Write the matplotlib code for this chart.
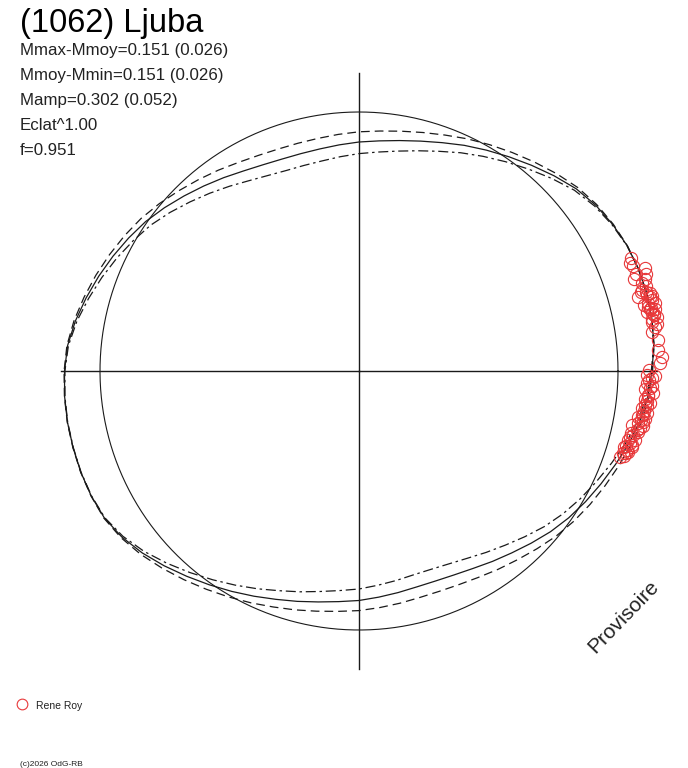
import numpy as np
import matplotlib
matplotlib.use("Agg")
import matplotlib.pyplot as plt

plt.rcParams['font.family'] = ['Liberation Sans', 'DejaVu Sans']

# polar lightcurve, radius in plot units (reference circle = 259)
ref_radius = 259
axis_len = 298

# fitted curve and the two error curves, read every 5 degrees
theta_deg = list(range(0, 360, 5))
r_fit = [293, 296, 297.5, 298, 297.5, 296, 293, 289, 283.5, 276, 268.5, 261.5,
         255, 249, 243, 238, 234, 231, 229, 227, 225.5, 225, 225.5, 227.5,
         231, 236, 241.5, 247.5, 254, 260.5, 266, 271.5, 277, 282.5, 288, 292.5,
         294.5, 295.5, 296, 296, 296, 295.5, 294, 289.5, 283, 275.5, 268, 261,
         254.5, 248.5, 243, 238.5, 234.5, 231.5, 229.5, 227, 225, 223.5, 223.5, 225,
         228, 232.5, 237.5, 243.5, 250, 256, 261.5, 267, 273, 279.5, 285.5, 290]
r_low_amp = [293.6, 296.2, 297.4, 297.9, 297.4, 296.2, 293.6, 290.2, 285.5, 279.2, 272.8, 266.8,
             261.3, 256.2, 251.1, 246.9, 243.5, 240.9, 239.2, 237.5, 236.2, 235.8, 236.2, 237.9,
             240.9, 245.2, 249.8, 254.9, 260.5, 266.0, 270.7, 275.3, 280.0, 284.7, 289.4, 293.2,
             294.9, 295.7, 296.2, 296.2, 296.2, 295.7, 294.5, 290.6, 285.1, 278.7, 272.4, 266.4,
             260.9, 255.8, 251.1, 247.3, 243.9, 241.3, 239.6, 237.5, 235.8, 234.5, 234.5, 235.8,
             238.4, 242.2, 246.4, 251.5, 257.1, 262.1, 266.8, 271.5, 276.6, 282.1, 287.2, 291.1]
r_high_amp = [292.3, 295.8, 297.6, 298.2, 297.6, 295.8, 292.3, 287.6, 281.2, 272.4, 263.6, 255.5,
              247.9, 240.8, 233.8, 228.0, 223.3, 219.8, 217.4, 215.1, 213.3, 212.8, 213.3, 215.7,
              219.8, 225.6, 232.1, 239.1, 246.7, 254.3, 260.7, 267.2, 273.6, 280.0, 286.5, 291.7,
              294.1, 295.2, 295.8, 295.8, 295.8, 295.2, 293.5, 288.2, 280.6, 271.8, 263.1, 254.9,
              247.3, 240.3, 233.8, 228.6, 223.9, 220.4, 218.0, 215.1, 212.8, 211.0, 211.0, 212.8,
              216.3, 221.5, 227.4, 234.4, 242.0, 249.0, 255.5, 261.9, 268.9, 276.5, 283.5, 288.8]

# observations (Rene Roy): angle in degrees, radius
obs_theta = [21.8, 19.8, 19.4, 18.7, 18.4, 14.9, 14.8, 15.0, 13.6, 12.9,
             12.5, 11.8, 11.2, 10.3, 9.6, 5.9, 4.0, 2.7, 1.6, -0.8,
             -1.4, -2.4, -4.3, -5.5, -6.3, -7.5, -8.4, -9.3, -10.1, -11.2,
             -12.0, -13.1, -14.4, -15.2, -16.4, -17.3, 15.6, 16.5, 13.0, 11.5,
             10.8, 8.5, 7.5, -3.3, -7.0, -9.9, -11.5, -12.8, -14.0, -15.8,
             -16.8, -3.6, 0.2, -1.0, 17.2, 22.6, 14.2, 12.0, -5.0, -8.8,
             -1.8, -2.9, -4.8, -5.9, -6.8, -7.9, -8.9, -9.6, -10.6, -11.0,
             -12.4, -13.6, -14.8, -15.6, -16.0, -17.0, -17.8, -18.3,
             10.0, 11.0, 12.2, 13.3, 14.3, 15.3, 16.0, 17.8, 9.0, 21.0]
obs_r = [291.8, 303.9, 293.4, 302.7, 290.2, 288.4, 297.6, 301.2, 301.2, 303.6,
         296.4, 302.4, 298.3, 302.6, 296.8, 300.9, 300.0, 303.0, 301.1, 287.7,
         292.8, 288.0, 295.1, 287.3, 292.8, 285.1, 290.8, 283.0, 288.8, 278.0,
         283.9, 281.7, 278.0, 282.6, 279.1, 276.8, 293.0, 299.0, 292.0, 294.0,
         300.0, 299.0, 296.0, 291.0, 290.0, 286.0, 287.0, 279.0, 284.0, 277.0,
         281.0, 287.0, 290.0, 296.0, 296.0, 295.0, 300.0, 298.0, 290.0, 287.0,
         290.0, 293.0, 290.0, 290.0, 288.0, 288.0, 286.0, 290.0, 284.0, 289.0,
         286.0, 279.0, 280.0, 283.0, 276.0, 279.0, 278.0, 275.0,
         298.0, 301.0, 299.0, 297.0, 302.0, 298.0, 294.0, 300.0, 302.0, 294.0]

title = "(1062) Ljuba"
info_lines = ["Mmax-Mmoy=0.151 (0.026)", "Mmoy-Mmin=0.151 (0.026)",
              "Mamp=0.302 (0.052)", "Eclat^1.00", "f=0.951"]

W, H = 688, 768
fig = plt.figure(figsize=(W / 100, H / 100), dpi=100)
fig.patch.set_facecolor("white")

# polar axes centred on pixel (359, 371)
rmax = 320
cx, cy = 359, H - 371
ax = fig.add_axes([(cx - rmax) / W, (cy - rmax) / H, 2 * rmax / W, 2 * rmax / H],
                  projection="polar")
ax.set_ylim(0, rmax)
ax.set_axis_off()

ink = "#1a1a1a"

# crosshair
for a in [0, 90, 180, 270]:
    ax.plot([np.radians(a), np.radians(a)], [0, axis_len], color=ink, lw=1.0)

# reference circle
tc = np.linspace(0, 2 * np.pi, 400)
ax.plot(tc, np.full_like(tc, ref_radius), color=ink, lw=0.8)

th = np.radians(theta_deg + [theta_deg[0]])
ax.plot(th, r_fit + [r_fit[0]], color=ink, lw=0.9)
ax.plot(th, r_low_amp + [r_low_amp[0]], color=ink, lw=0.9, ls=(0, (7, 4)))
ax.plot(th, r_high_amp + [r_high_amp[0]], color=ink, lw=0.9, ls=(0, (8, 3, 2, 3)))

red = "#e8383a"
ax.plot(np.radians(obs_theta), obs_r, ls="none", marker="o", ms=8.8,
        mfc="none", mec=red, mew=0.8, clip_on=False)

# texts
fig.text(20 / W, 1 - 32 / H, title, fontsize=23.5, va="baseline", color="black")
for i, line in enumerate(info_lines):
    fig.text(20 / W, 1 - (55 + 25 * i) / H, line, fontsize=12.2,
             va="baseline", color="#222222")

fig.text(624 / W, 1 - 617 / H, "Provisoire", fontsize=15, rotation=46,
         ha="center", va="center", rotation_mode="anchor", color="#222222")

# legend
fig.lines.append(plt.Line2D([22 / W], [1 - 704 / H], transform=fig.transFigure,
                            ls="none", marker="o", ms=7.7, mfc="none",
                            mec=red, mew=0.8))
fig.text(36 / W, 1 - 709 / H, "Rene Roy", fontsize=7.5, va="baseline", color="#222222")
fig.text(20 / W, 1 - 766 / H, "(c)2026 OdG-RB", fontsize=6, va="baseline", color="#222222")

fig.savefig("out.png", dpi=100, facecolor="white")
